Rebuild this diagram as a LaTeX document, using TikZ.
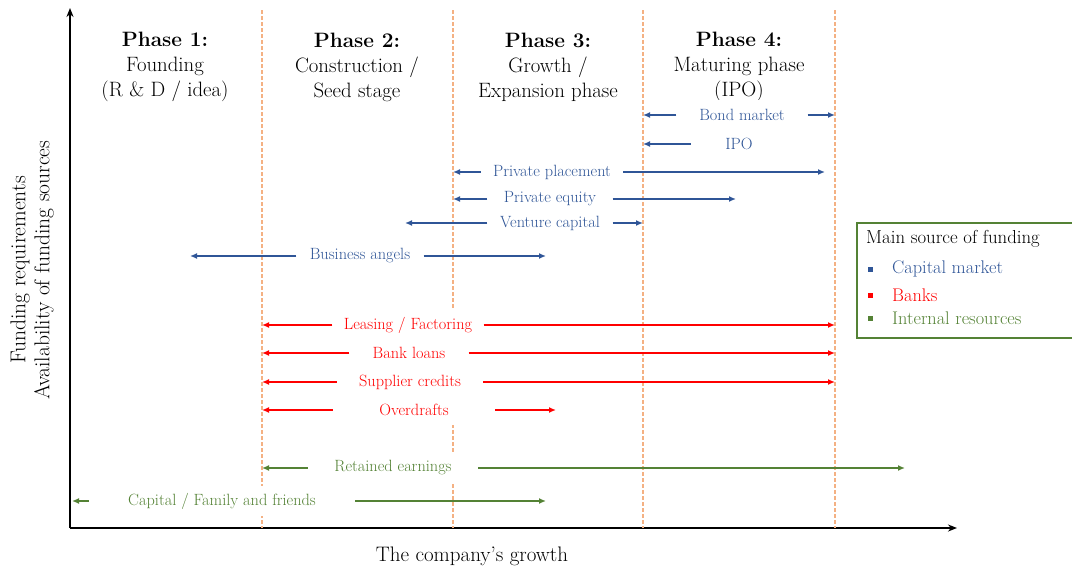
\documentclass[tikz,border=0pt]{standalone}
\usepackage{fontspec}
\usetikzlibrary{
    arrows.meta,
    positioning
}
\definecolor{capblue}{HTML}{2F5597}
\definecolor{bankred}{HTML}{FF0000}
\definecolor{intgreen}{HTML}{548235}
\definecolor{phaseorange}{HTML}{F4B183}

\tikzset{
    axis/.style={line width=2.5pt, -{Stealth[length=9pt, width=7pt]}},
    phaseline/.style={phaseorange, line width=1.6pt, dash pattern=on 4pt off 2pt},
    phase/.style={align=center, font=\fontsize{20.8}{25}\selectfont},
    src/.style={fill=white, inner sep=0pt, minimum height=30pt, font=\fontsize{16.3}{18}\selectfont},
    fund/.style={line width=1.5pt, -{Latex[length=7pt, width=6pt]}},
    legitem/.style={anchor=west, inner sep=0pt, font=\fontsize{18.3}{20}\selectfont},
    legbox/.style={minimum size=5pt, inner sep=0pt}
}

\begin{document}
\begin{tikzpicture}[x=1pt, y=-1pt]
\useasboundingbox (0,0) rectangle (1072,568);

% axes
\coordinate (o) at (70,528);
\coordinate (ytop) at (70,8);
\coordinate (xend) at (957,528);
\draw[axis] (o) -- (ytop);
\draw[axis] (o) -- (xend);
\node[font=\fontsize{21}{23}\selectfont] (xlab) at (472,556) {The company's growth};
\node[rotate=90, align=center, font=\fontsize{21.5}{24}\selectfont] (ylab) at (32,270)
    {Funding requirements\\Availability of funding sources};

% phase borders
\foreach \x in {262, 453, 643, 835}
    \draw[phaseline] (\x,10) -- (\x,528);

% phase titles
\node[phase] (ph1) at (165,67) {\textbf{Phase 1:}\\Founding\\(R \& D / idea)};
\node[phase] (ph2) at (357,67) {\textbf{Phase 2:}\\Construction /\\Seed stage};
\node[phase] (ph3) at (548,67) {\textbf{Phase 3:}\\Growth /\\Expansion phase};
\node[phase] (ph4) at (739,67) {\textbf{Phase 4:}\\Maturing phase\\(IPO)};

% capital market
\node[src, text=capblue, minimum width=131pt] (bond) at (742,115) {Bond market};
\node[src, text=capblue, minimum width=96pt] (ipo) at (739,144) {IPO};
\node[src, text=capblue, minimum width=142pt] (place) at (552,172) {Private placement};
\node[src, text=capblue, minimum width=125pt] (equity) at (550,199) {Private equity};
\node[src, text=capblue, minimum width=125pt] (venture) at (550,223) {Venture capital};
\node[src, text=capblue, minimum width=127pt] (angels) at (360,256) {Business angels};
\coordinate (bondL) at (643,115);   \coordinate (bondR) at (835,115);
\coordinate (ipoL) at (643,144);
\coordinate (placeL) at (453,172);  \coordinate (placeR) at (825,172);
\coordinate (equityL) at (453,199); \coordinate (equityR) at (736,199);
\coordinate (ventureL) at (405,223); \coordinate (ventureR) at (643,223);
\coordinate (angelsL) at (190,256); \coordinate (angelsR) at (546,256);
\path[fund, capblue]
    (bond) edge (bondL) edge (bondR)
    (ipo) edge (ipoL)
    (place) edge (placeL) edge (placeR)
    (equity) edge (equityL) edge (equityR)
    (venture) edge (ventureL) edge (ventureR)
    (angels) edge (angelsL) edge (angelsR);

% banks
\node[src, text=bankred, minimum width=151pt] (leasing) at (408,325) {Leasing / Factoring};
\node[src, text=bankred, minimum width=119pt] (loans) at (409,353) {Bank loans};
\node[src, text=bankred, minimum width=146pt] (supplier) at (410,382) {Supplier credits};
\node[src, text=bankred, minimum width=162pt] (overdraft) at (414,410) {Overdrafts};
\coordinate (leasingL) at (262,325);  \coordinate (leasingR) at (835,325);
\coordinate (loansL) at (262,353);    \coordinate (loansR) at (835,353);
\coordinate (supplierL) at (262,382); \coordinate (supplierR) at (835,382);
\coordinate (overdraftL) at (262,410); \coordinate (overdraftR) at (556,410);
\path[fund, bankred]
    (leasing) edge (leasingL) edge (leasingR)
    (loans) edge (loansL) edge (loansR)
    (supplier) edge (supplierL) edge (supplierR)
    (overdraft) edge (overdraftL) edge (overdraftR);

% internal resources
\node[src, text=intgreen, minimum width=170pt] (retained) at (393,468) {Retained earnings};
\node[src, text=intgreen, minimum width=266pt] (family) at (222,501) {Capital / Family and friends};
\coordinate (retainedL) at (262,468); \coordinate (retainedR) at (905,468);
\coordinate (familyL) at (72,501);    \coordinate (familyR) at (546,501);
\path[fund, intgreen]
    (retained) edge (retainedL) edge (retainedR)
    (family) edge (familyL) edge (familyR);

% legend
\node[draw=intgreen, line width=1.5pt, anchor=north west, minimum width=240pt, minimum height=115pt] (legend) at (856,222) {};
\node[legitem, font=\fontsize{18.8}{20}\selectfont] (legtitle) at (866,239) {Main source of funding};
\node[legbox, fill=capblue] (sq1) at (870,269) {};
\node[legbox, fill=bankred] (sq2) at (870,295) {};
\node[legbox, fill=intgreen] (sq3) at (870,318) {};
\node[legitem, text=capblue] (leg1) at (892,269) {Capital market};
\node[legitem, text=bankred] (leg2) at (892,295) {Banks};
\node[legitem, text=intgreen] (leg3) at (892,318) {Internal resources};
\end{tikzpicture}
\end{document}
